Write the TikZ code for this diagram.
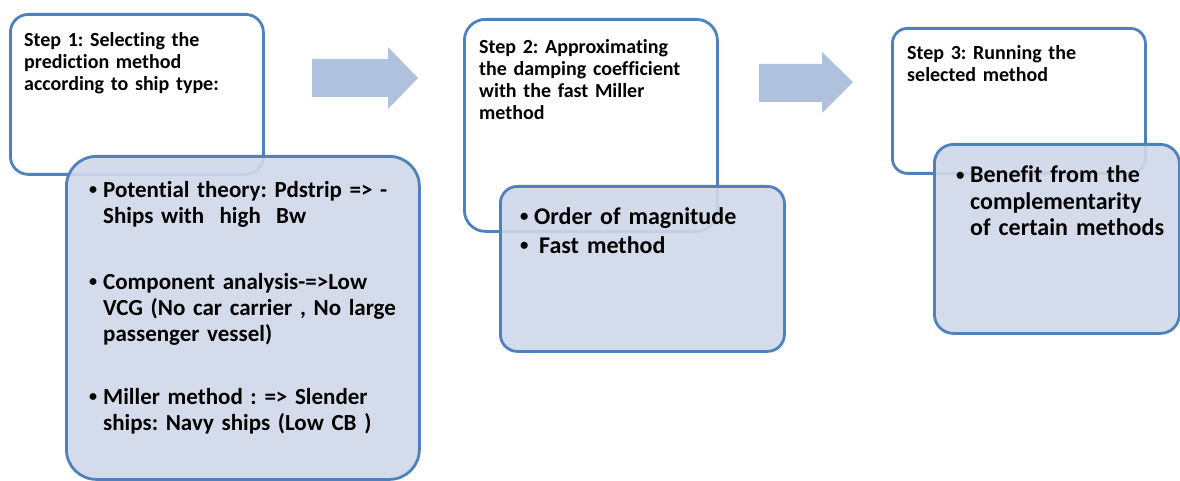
\documentclass[tikz,border=0pt]{standalone}
\usepackage{fontspec}
\setmainfont{Carlito}[Ligatures={TeX,NoCommon}]
\definecolor{boxline}{RGB}{79,129,189}
\definecolor{detailfill}{RGB}{207,216,233}
\definecolor{arrowfill}{RGB}{176,193,221}
% bullet item: small bullet, then the item's lines stacked in a top-aligned column
\newcommand{\bitem}[1]{\noindent\makebox[14pt][l]{\raisebox{0.12em}{\scalebox{0.7}{\textbullet}}}%
  \begin{tabular}[t]{@{}l@{}}#1\end{tabular}\par}
\begin{document}
\frenchspacing
\begin{tikzpicture}[x=1pt,y=-1pt,
  stepbox/.style={draw=boxline, line width=2.8pt, rounded corners=#1, fill=white,
    inner sep=0pt, anchor=north west},
  detailbox/.style={draw=boxline, line width=2.8pt, rounded corners=#1, fill=detailfill,
    fill opacity=0.9, draw opacity=1, inner sep=0pt, anchor=north west},
  steptext/.style={anchor=base west, inner sep=0pt, text width=240pt, align=left,
    font=\bfseries\fontsize{20}{22}\selectfont},
  listtext/.style={anchor=base west, inner sep=0pt, text width=#1, align=left,
    font=\bfseries\fontsize{24}{26.4}\selectfont},
  flowarrow/.style={fill=arrowfill, draw=none}
]
\useasboundingbox (0,0) rectangle (1180,481);

% process arrows
\fill[flowarrow] (312,59) -- (388,59) -- (388,47) -- (418,78) -- (388,109) -- (388,97) -- (312,97) -- cycle;
\fill[flowarrow] (759,64) -- (822,64) -- (822,52) -- (853,82) -- (822,113) -- (822,102) -- (759,102) -- cycle;

% step 1
\node[stepbox=18pt, minimum width=253pt, minimum height=160pt] (s1) at (9,13) {};
\node[steptext] (t1) at (24,47) {Step 1: Selecting the\\ prediction method\\ according to ship type:};
\node[detailbox=30pt, minimum width=353pt, minimum height=323pt] (d1) at (65,155) {};
\node[listtext=320pt, font=\bfseries\fontsize{23}{26}\selectfont] (l1) at (89,197) {%
  \bitem{Potential theory: Pdstrip => -\\ Ships with\ \ high\ \ Bw}\vspace{39pt}%
  \bitem{Component analysis-=>Low\\ VCG (No car carrier , No large\\ passenger vessel)}\vspace{36pt}%
  \bitem{Miller method : => Slender\\ ships: Navy ships (Low CB )}};

% step 2
\node[stepbox=21pt, minimum width=253pt, minimum height=212pt] (s2) at (463,18) {};
\node[steptext] (t2) at (479,54) {Step 2: Approximating\\ the damping coefficient\\ with the fast Miller\\ method};
\node[detailbox=17pt, minimum width=284pt, minimum height=165pt] (d2) at (499,185) {};
\node[listtext=250pt] (l2) at (520,224) {%
  \bitem{Order of magnitude}\vspace{3pt}%
  \bitem{\hspace{5pt}Fast method}};

% step 3
\node[stepbox=15pt, minimum width=253pt, minimum height=145pt] (s3) at (891,27) {};
\node[steptext] (t3) at (907,60) {Step 3: Running the\\ selected method};
\node[detailbox=19pt, minimum width=245pt, minimum height=189pt] (d3) at (933,143) {};
\node[listtext=215pt] (l3) at (956,183) {%
  \bitem{Benefit from the\\ complementarity\\ of certain methods}};
\end{tikzpicture}
\end{document}
